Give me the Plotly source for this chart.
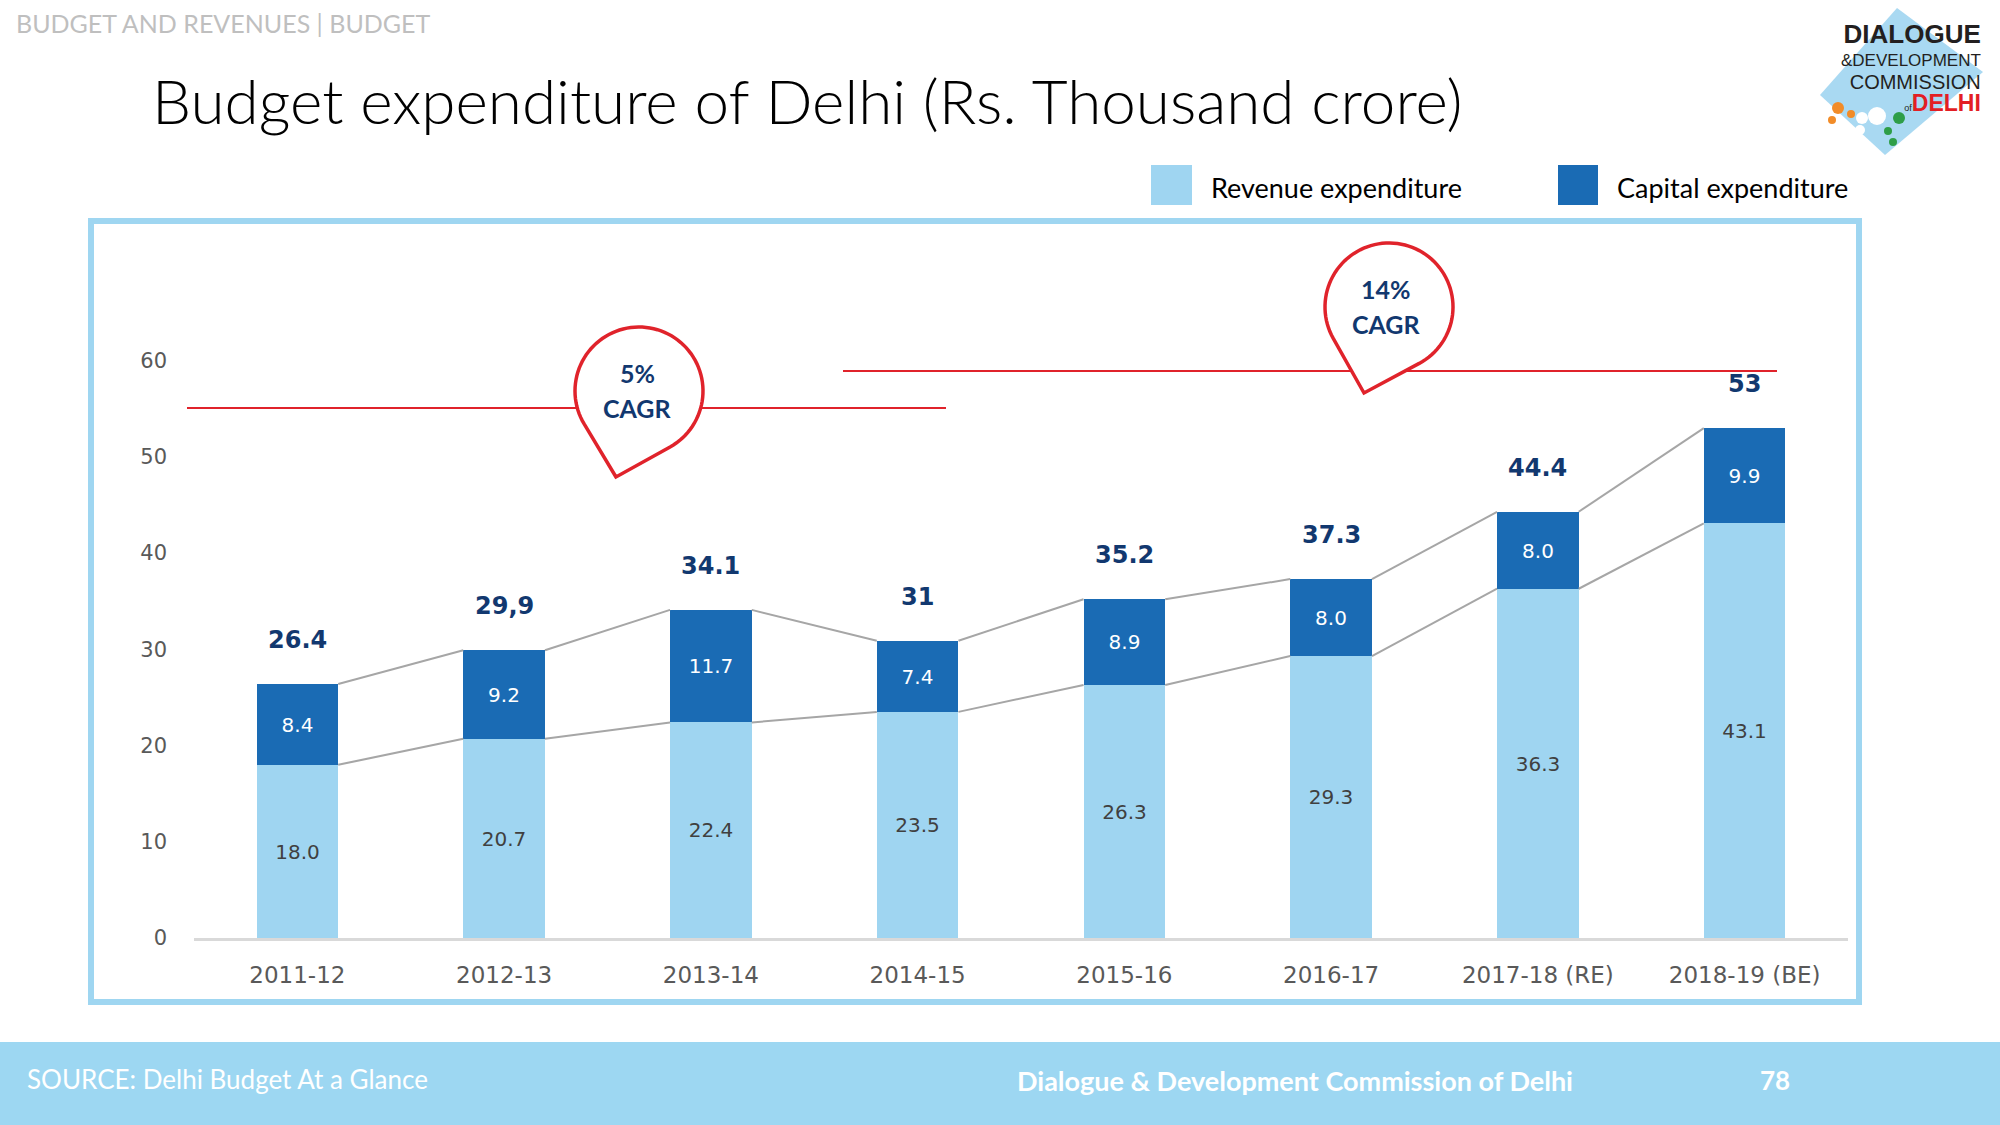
import numpy as np
import plotly.graph_objects as go

# ---------------- data ----------------
years = ["2011-12", "2012-13", "2013-14", "2014-15", "2015-16", "2016-17", "2017-18 (RE)", "2018-19 (BE)"]
revenue = [18.0, 20.7, 22.4, 23.5, 26.3, 29.3, 36.3, 43.1]
capital = [8.4, 9.2, 11.7, 7.4, 8.9, 8.0, 8.0, 9.9]
total_labels = ["26.4", "29,9", "34.1", "31", "35.2", "37.3", "44.4", "53"]
y_ticks = [0, 10, 20, 30, 40, 50, 60]
cagr_labels = ["5%", "14%"]

# ---------------- style ----------------
LIGHT = "#9FD5F1"
DARK = "#1A6BB4"
NAVY = "#12386F"
RED = "#E0232B"
GRAY_TXT = "#595959"
BORDER = "#9FD6F1"
FOOT = "#9DD7F2"

W, H = 2000, 1125
L, R, T, B = 194, 1848, 226, 938
XR = [-0.5, 7.5]
YR = [0, 74]
BAR_W = 0.395


def px(x):
    return (x - L) / (R - L)


def py(y):
    return (B - y) / (B - T)


idx = list(range(len(years)))
totals = [r + c for r, c in zip(revenue, capital)]

fig = go.Figure()
fig.add_trace(go.Bar(
    x=idx, y=revenue, width=BAR_W, marker=dict(color=LIGHT, line=dict(width=0)),
    text=[f"{v:.1f}" for v in revenue], textposition="inside", insidetextanchor="middle",
    textangle=0, constraintext="none",
    textfont=dict(family="DejaVu Sans", size=20, color="#404040"),
    name="Revenue expenditure", hoverinfo="skip"))
fig.add_trace(go.Bar(
    x=idx, y=capital, width=BAR_W, marker=dict(color=DARK, line=dict(width=0)),
    text=[f"{v:.1f}" for v in capital], textposition="inside", insidetextanchor="middle",
    textangle=0, constraintext="none",
    textfont=dict(family="DejaVu Sans", size=20, color="white"),
    name="Capital expenditure", hoverinfo="skip"))

# series connector lines
for tops in (revenue, totals):
    xs, ys = [], []
    for i in range(len(tops) - 1):
        xs += [i + BAR_W / 2, i + 1 - BAR_W / 2, None]
        ys += [tops[i], tops[i + 1], None]
    fig.add_trace(go.Scatter(x=xs, y=ys, mode="lines", line=dict(color="#A6A6A6", width=2),
                             hoverinfo="skip", showlegend=False))

annotations = []
shapes = []

# total labels
for i, (t, lab) in enumerate(zip(totals, total_labels)):
    annotations.append(dict(x=i, y=t, xref="x", yref="y", text=f"<b>{lab}</b>", showarrow=False,
                            yanchor="middle", yshift=44,
                            font=dict(family="DejaVu Sans", size=24, color=NAVY)))

# chart box border
shapes.append(dict(type="rect", xref="paper", yref="paper", x0=px(91), x1=px(1859), y0=py(221), y1=py(1002),
                   line=dict(color=BORDER, width=6), fillcolor="rgba(0,0,0,0)", layer="below"))

# CAGR lines
shapes.append(dict(type="line", xref="paper", yref="paper", x0=px(187), x1=px(946), y0=py(408), y1=py(408),
                   line=dict(color=RED, width=2), layer="above"))
shapes.append(dict(type="line", xref="paper", yref="paper", x0=px(843), x1=px(1777), y0=py(371), y1=py(371),
                   line=dict(color=RED, width=2), layer="above"))


def pin_path(cx, cy, r, tx, ty, n=80):
    dx, dy = tx - cx, ty - cy
    d = np.hypot(dx, dy)
    phi = np.arctan2(dy, dx)
    a = np.arccos(r / d)
    angs = np.linspace(phi + a, phi - a + 2 * np.pi, n)
    pts = [(tx, ty)] + [(cx + r * np.cos(t), cy + r * np.sin(t)) for t in angs]
    return "M " + " L ".join(f"{px(x):.5f},{py(y):.5f}" for x, y in pts) + " Z"


bubbles = [((639, 391), (616, 477), (637, 373), (637, 408)),
           ((1389, 307), (1364, 393), (1386, 289), (1386, 324))]
for (c, tip, p1, p2), lab in zip(bubbles, cagr_labels):
    shapes.append(dict(type="path", xref="paper", yref="paper", path=pin_path(c[0], c[1], 64, tip[0], tip[1]),
                       fillcolor="white", line=dict(color=RED, width=3.5), layer="above"))
    annotations.append(dict(x=px(p1[0]), y=py(p1[1]), xref="paper", yref="paper", text=f"<b>{lab}</b>",
                            showarrow=False, xanchor="center", yanchor="middle",
                            font=dict(family="Lato", size=25, color=NAVY)))
    annotations.append(dict(x=px(p2[0]), y=py(p2[1]), xref="paper", yref="paper", text="<b>CAGR</b>",
                            showarrow=False, xanchor="center", yanchor="middle",
                            font=dict(family="Lato", size=25, color=NAVY)))

# header & title
annotations.append(dict(x=px(14), y=py(23), xref="paper", yref="paper", text="BUDGET AND REVENUES | BUDGET",
                        showarrow=False, xanchor="left", yanchor="middle",
                        font=dict(family="Lato", size=25, color="#BFBFBF")))
annotations.append(dict(x=px(150), y=py(100), xref="paper", yref="paper",
                        text="Budget expenditure of Delhi (Rs. Thousand crore)",
                        showarrow=False, xanchor="left", yanchor="middle",
                        font=dict(family="Lato", size=62, color="#000000", weight=300)))

# legend
for (x0, x1), col, txt, tx in [((1151, 1192), LIGHT, "Revenue expenditure", 1209),
                               ((1558, 1598), DARK, "Capital expenditure", 1615)]:
    shapes.append(dict(type="rect", xref="paper", yref="paper", x0=px(x0), x1=px(x1), y0=py(165), y1=py(205),
                       fillcolor=col, line=dict(width=0)))
    annotations.append(dict(x=px(tx), y=py(188), xref="paper", yref="paper", text=txt, showarrow=False,
                            xanchor="left", yanchor="middle",
                            font=dict(family="Lato", size=27, color="#000000")))

# footer
shapes.append(dict(type="rect", xref="paper", yref="paper", x0=px(-5), x1=px(W + 5), y0=py(1042), y1=py(H + 5),
                   fillcolor=FOOT, line=dict(width=0)))
annotations.append(dict(x=px(25), y=py(1079), xref="paper", yref="paper", text="SOURCE: Delhi Budget At a Glance",
                        showarrow=False, xanchor="left", yanchor="middle",
                        font=dict(family="Lato", size=26, color="white")))
annotations.append(dict(x=px(1295), y=py(1080), xref="paper", yref="paper",
                        text="<b>Dialogue &amp; Development Commission of Delhi</b>",
                        showarrow=False, xanchor="center", yanchor="middle",
                        font=dict(family="Lato", size=27, color="white")))
annotations.append(dict(x=px(1775), y=py(1080), xref="paper", yref="paper", text="<b>78</b>",
                        showarrow=False, xanchor="center", yanchor="middle",
                        font=dict(family="Lato", size=26, color="white")))

# logo
diamond = [(1897, 8), (1983, 72), (1885, 155), (1820, 95)]
shapes.append(dict(type="path", xref="paper", yref="paper",
                   path="M " + " L ".join(f"{px(x):.5f},{py(y):.5f}" for x, y in diamond) + " Z",
                   fillcolor="#A9D9F2", line=dict(width=0)))
for (cx, cy, r, col) in [(1838, 108, 6, "#F28C28"), (1851, 114, 4, "#F28C28"), (1832, 120, 4, "#F28C28"),
                         (1877, 116, 9, "white"), (1862, 118, 6, "white"), (1860, 130, 5, "white"),
                         (1899, 118, 6, "#2E9E48"), (1888, 131, 4, "#2E9E48"), (1893, 142, 4, "#2E9E48")]:
    shapes.append(dict(type="circle", xref="paper", yref="paper", x0=px(cx - r), x1=px(cx + r),
                       y0=py(cy + r), y1=py(cy - r), fillcolor=col, line=dict(width=0)))
logo_text = ("<span style='font-size:26px'><b>DIALOGUE</b></span><br>"
             "<span style='font-size:17px'>&amp;DEVELOPMENT</span><br>"
             "<span style='font-size:20px'>COMMISSION</span><br>"
             "<span style='font-size:9px'>of</span>"
             "<span style='font-size:23px;fill:#E31E24'><b>DELHI</b></span>")
annotations.append(dict(x=px(1982), y=py(68), xref="paper", yref="paper", text=logo_text, showarrow=False,
                        xanchor="right", yanchor="middle", align="right", borderpad=0,
                        font=dict(family="Liberation Sans", size=17.5, color="#231F20")))

fig.update_layout(
    template="none",
    width=W, height=H, autosize=False,
    margin=dict(l=L, r=W - R, t=T, b=H - B, pad=0),
    paper_bgcolor="white", plot_bgcolor="rgba(0,0,0,0)",
    barmode="stack", bargap=0, showlegend=False,
    annotations=annotations, shapes=shapes,
    xaxis=dict(range=XR, tickvals=idx, ticktext=years, showgrid=False, zeroline=False,
               showline=True, linecolor="#D9D9D9", linewidth=3, ticks="", automargin=False,
               ticklabelstandoff=14,
               tickfont=dict(family="DejaVu Sans", size=23, color=GRAY_TXT)),
    yaxis=dict(range=YR, tickvals=y_ticks, showgrid=False, zeroline=False, showline=False,
               ticks="", automargin=False, ticklabelstandoff=26,
               tickfont=dict(family="DejaVu Sans", size=21, color=GRAY_TXT)),
)

fig.write_html("out.html", config={"displayModeBar": False},
               post_script="document.body.style.margin='0';document.body.style.overflow='hidden';")
